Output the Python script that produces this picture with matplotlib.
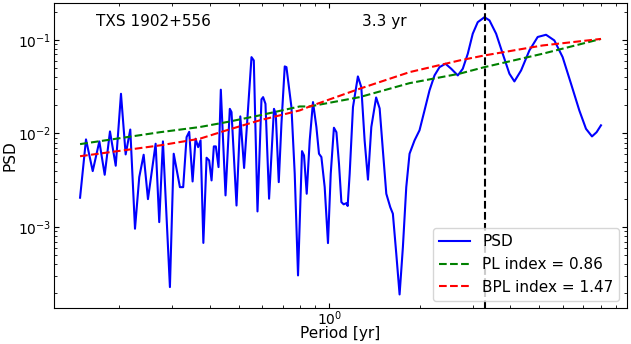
import matplotlib
matplotlib.use("Agg")
import matplotlib.pyplot as plt

# periodogram of the source (period in yr, PSD)
period = [0.1483, 0.1552, 0.1634, 0.1719, 0.1791, 0.1865, 0.1949, 0.2029, 0.2103, 0.2179,
          0.2259, 0.2334, 0.2414, 0.2495, 0.2646, 0.272, 0.2798, 0.2952, 0.3039, 0.3187,
          0.3268, 0.3354, 0.3422, 0.3512, 0.3593, 0.3665, 0.3733, 0.3814, 0.3909, 0.3987,
          0.4061, 0.4133, 0.4197, 0.4284, 0.436, 0.452, 0.4671, 0.4732, 0.4917, 0.5062,
          0.5211, 0.5515, 0.5613, 0.5774, 0.5953, 0.6028, 0.6138, 0.631, 0.6551, 0.6641,
          0.6796, 0.6937, 0.7115, 0.7208, 0.7489, 0.768, 0.7877, 0.8121, 0.8247, 0.8419,
          0.8614, 0.8834, 0.9067, 0.9249, 0.9421, 0.9662, 0.9909, 1.012, 1.037, 1.057,
          1.078, 1.098, 1.117, 1.141, 1.152, 1.17, 1.2, 1.246, 1.279, 1.312,
          1.346, 1.381, 1.433, 1.472, 1.509, 1.549, 1.597, 1.629, 1.672, 1.715,
          1.759, 1.805, 1.851, 1.923, 1.998, 2.076, 2.157, 2.241, 2.329, 2.438,
          2.547, 2.679, 2.783, 2.892, 3.004, 3.121, 3.286, 3.414, 3.593, 3.779,
          3.978, 4.133, 4.35, 4.636, 4.94, 5.267, 5.613, 5.981, 6.378, 6.796,
          7.153, 7.489, 7.757, 8.023]
psd = [0.00206, 0.00863, 0.00396, 0.00822, 0.00362, 0.0105, 0.00452, 0.0265, 0.00597, 0.011,
       0.000961, 0.00342, 0.00592, 0.00199, 0.00776, 0.00113, 0.00822, 0.000229, 0.00607, 0.00267,
       0.00267, 0.00913, 0.0104, 0.00307, 0.00878, 0.00714, 0.00842, 0.000678, 0.0055, 0.00515,
       0.00315, 0.00727, 0.00727, 0.00437, 0.0293, 0.00218, 0.0183, 0.0169, 0.0017, 0.0152,
       0.00428, 0.0652, 0.0601, 0.00147, 0.0231, 0.0244, 0.0207, 0.00201, 0.0183, 0.0163,
       0.00302, 0.0127, 0.0519, 0.051, 0.0191, 0.00371, 0.000305, 0.00647, 0.00582, 0.00227,
       0.00842, 0.0216, 0.0117, 0.00607, 0.00559, 0.00267, 0.000675, 0.00371, 0.0115, 0.0103,
       0.00475, 0.00185, 0.00175, 0.0018, 0.00168, 0.00371, 0.0191, 0.0406, 0.0312, 0.00842,
       0.00321, 0.0117, 0.0242, 0.0185, 0.00659, 0.00227, 0.00163, 0.00139, 0.00052, 0.000191,
       0.000612, 0.00267, 0.00607, 0.00842, 0.0108, 0.0176, 0.0288, 0.0416, 0.051, 0.0554,
       0.049, 0.0416, 0.049, 0.0709, 0.116, 0.154, 0.174, 0.161, 0.116, 0.0709,
       0.0434, 0.0359, 0.047, 0.0769, 0.107, 0.113, 0.0983, 0.0652, 0.0339, 0.0176,
       0.0112, 0.00929, 0.0103, 0.0122]

# fitted models (PL and BPL)
fit_period = [0.1483, 0.2734, 0.3713, 0.4555, 0.5876, 0.798, 0.8614, 1.263, 1.851, 2.714, 3.286, 5.132, 8.023]
pl_psd = [0.00769, 0.0103, 0.0117, 0.0132, 0.0156, 0.0194, 0.0194, 0.0244, 0.0344, 0.0434, 0.051, 0.0709, 0.102]
bpl_psd = [0.00571, 0.00745, 0.00878, 0.0108, 0.0138, 0.0176, 0.0194, 0.03, 0.0451, 0.0601, 0.068, 0.0869, 0.102]

# detected period
qpo_period = 3.3

fig = plt.figure(figsize=(6.31, 3.44), dpi=100)
ax = fig.add_axes([0.0856, 0.1037, 0.9081, 0.8866])

ax.loglog(period, psd, color='b', lw=1.5, label='PSD')
ax.loglog(fit_period, pl_psd, '--', color='g', lw=1.5, label='PL index = 0.86')
ax.loglog(fit_period, bpl_psd, '--', color='r', lw=1.5, label='BPL index = 1.47')
ax.axvline(qpo_period, color='k', ls='--', lw=1.5)

ax.text(0.073, 0.94, 'TXS 1902+556', transform=ax.transAxes, fontsize=11, va='center')
ax.text(0.538, 0.94, '3.3 yr', transform=ax.transAxes, fontsize=11, va='center')

ax.set_xlabel('Period [yr]', fontsize=11, labelpad=-1)
ax.set_ylabel('PSD', fontsize=11, labelpad=0)
ax.tick_params(which='both', direction='in', top=True, right=True, labelsize=10)
ax.tick_params(axis='x', pad=0.5)
ax.tick_params(axis='y', pad=2)

ax.legend(loc='lower right', fontsize=11)

plt.savefig('out.png')
